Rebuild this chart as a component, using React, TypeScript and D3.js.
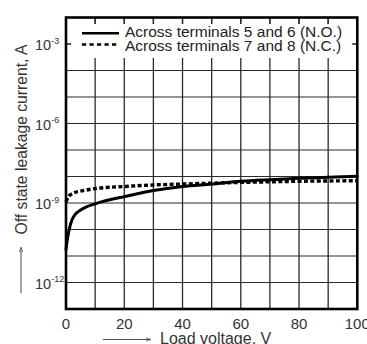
import React from "react";
import * as d3 from "d3";

const solidVoltage = [0, 0.5, 1, 2, 3, 5, 7, 10, 15, 20, 30, 40, 50, 60, 70, 80, 90, 100];
const solidCurrent = [1.78e-11, 4.47e-11, 8.9e-11, 2.24e-10, 3.55e-10, 5.4e-10, 7.1e-10, 9.3e-10, 1.32e-9, 1.74e-9, 2.95e-9, 4.2e-9, 5.2e-9, 6.6e-9, 7.6e-9, 8.5e-9, 9.3e-9, 1.02e-8];
const dottedVoltage = [0, 0.7, 1.5, 3, 5, 10, 20, 30, 40, 50, 60, 70, 80, 90, 100];
const dottedCurrent = [1.1e-9, 1.66e-9, 2.04e-9, 2.5e-9, 2.8e-9, 3.5e-9, 4.2e-9, 4.8e-9, 5.2e-9, 5.6e-9, 6.0e-9, 6.3e-9, 6.6e-9, 6.8e-9, 6.9e-9];
const xTicks = [0, 20, 40, 60, 80, 100];
const xGrid = [10, 20, 30, 40, 50, 60, 70, 80, 90];
const yGrid = [1e-12, 1e-11, 1e-10, 1e-9, 1e-8, 1e-7, 1e-6, 1e-5, 1e-4, 1e-3];
const yLabelExps = [-3, -6, -9, -12];
const legendLabels = ["Across terminals 5 and 6 (N.O.)", "Across terminals 7 and 8 (N.C.)"];

const W = 367, H = 344;
const L = 66, R = 357.3, T = 17.5, B = 309;

export default function App() {
  const x = d3.scaleLinear().domain([0, 100]).range([L, R]);
  const y = d3.scaleLog().domain([1e-13, 1e-2]).range([B, T]);
  const line = d3
    .line<[number, number]>()
    .x((d) => x(d[0]))
    .y((d) => y(d[1]))
    .curve(d3.curveMonotoneX);
  const solid = line(solidVoltage.map((v, i) => [v, solidCurrent[i]]) as [number, number][]) || "";
  const dotted = line(dottedVoltage.map((v, i) => [v, dottedCurrent[i]]) as [number, number][]) || "";
  const font = "'Liberation Sans', Arial, sans-serif";
  const gridCol = "#2a2a2a";
  const legTop = 24, legBottom = 58;
  const y3 = y(1e-3);

  return (
    <svg
      width={W}
      height={H}
      style={{ position: "absolute", left: 0, top: 0, background: "#fff" }}
      fontFamily={font}
    >
      <rect x={0} y={0} width={W} height={H} fill="#fff" />
      {/* grid */}
      {yGrid.map((g) => (
        <line key={"h" + g} x1={L} x2={R} y1={y(g)} y2={y(g)} stroke={gridCol} strokeWidth={1.2} />
      ))}
      {xGrid.map((g) => (
        <line key={"v" + g} x1={x(g)} x2={x(g)} y1={T} y2={B} stroke={gridCol} strokeWidth={1.3} />
      ))}
      {/* legend background */}
      <rect x={L + 5} y={legTop} width={R - L - 10} height={legBottom - legTop} fill="#fff" />
      {xGrid.map((g) => (
        <line key={"vt" + g} x1={x(g)} x2={x(g)} y1={T} y2={legTop} stroke={gridCol} strokeWidth={1.3} />
      ))}
      <line x1={L} x2={L + 5} y1={y3} y2={y3} stroke={gridCol} strokeWidth={1.2} />
      <line x1={R - 5} x2={R} y1={y3} y2={y3} stroke={gridCol} strokeWidth={1.2} />
      {/* legend */}
      <line x1={82} x2={119} y1={33.3} y2={33.3} stroke="#000" strokeWidth={2.6} />
      <line x1={82} x2={119} y1={44.5} y2={44.5} stroke="#000" strokeWidth={2.6} strokeDasharray="4.2,3.3" />
      <text x={125} y={37} fontSize={15.5} fill="#222">{legendLabels[0]}</text>
      <text x={125} y={50.5} fontSize={15.5} fill="#222">{legendLabels[1]}</text>
      {/* curves */}
      <path d={dotted} fill="none" stroke="#000" strokeWidth={3.4} strokeDasharray="4,2.4" />
      <path d={solid} fill="none" stroke="#000" strokeWidth={3} strokeLinecap="round" />
      {/* frame */}
      <rect x={L} y={T} width={R - L} height={B - T} fill="none" stroke="#000" strokeWidth={2.6} />
      {/* y tick labels */}
      {yLabelExps.map((e) => (
        <text key={"yl" + e} x={35} y={y(Math.pow(10, e)) + 6} fontSize={14.5} fill="#333">
          10
          <tspan fontSize={9} dy={-6.5}>{"-" + Math.abs(e)}</tspan>
        </text>
      ))}
      {/* x tick labels */}
      {xTicks.map((t) => (
        <text key={"xl" + t} x={x(t)} y={329} fontSize={15} textAnchor="middle" fill="#333">
          {t}
        </text>
      ))}
      {/* y axis title */}
      <text
        transform={`translate(26.5,139.5) rotate(-90)`}
        fontSize={15.7}
        textAnchor="middle"
        fill="#333"
      >
        Off state leakage current, A
      </text>
      <line x1={21} x2={21} y1={293} y2={248} stroke="#555" strokeWidth={1.1} />
      <path d="M19.3,252 L21,247 L22.7,252" fill="none" stroke="#555" strokeWidth={0.8} />
      {/* x axis title */}
      <line x1={103} x2={150} y1={339.5} y2={339.5} stroke="#555" strokeWidth={1.1} />
      <path d="M146,337.8 L151,339.5 L146,341.2" fill="none" stroke="#555" strokeWidth={0.8} />
      <text x={160} y={344} fontSize={16} fill="#333">Load voltage, V</text>
    </svg>
  );
}
